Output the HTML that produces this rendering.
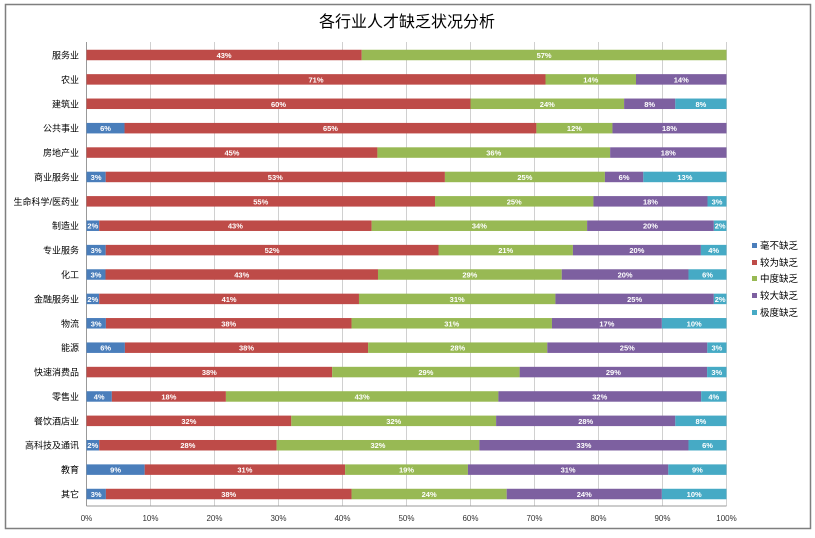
<!DOCTYPE html>
<html><head><meta charset="utf-8"><style>
body{margin:0;background:#fff;}
svg{display:block;font-family:"Liberation Sans","Noto Sans CJK SC",sans-serif;}
</style></head><body>
<svg id="c" width="815" height="538" xmlns="http://www.w3.org/2000/svg">
<rect x="0" y="0" width="815" height="538" fill="#fff"/>
<rect x="5.5" y="4.5" width="805" height="524" fill="#fff" stroke="#7f7f7f" stroke-width="1.5"/>
<text x="407" y="27" font-size="16" text-anchor="middle" fill="#000">各行业人才缺乏状况分析</text>
<g id="grid"></g>
<g id="bars"></g>
<g id="legend" font-size="9.5" fill="#000">
<rect x="752" y="243" width="5" height="5" fill="#4a7ebb"/><text x="760" y="249">毫不缺乏</text>
<rect x="752" y="260" width="5" height="5" fill="#be4b48"/><text x="760" y="266">较为缺乏</text>
<rect x="752" y="276" width="5" height="5" fill="#98b954"/><text x="760" y="282">中度缺乏</text>
<rect x="752" y="293" width="5" height="5" fill="#7d60a0"/><text x="760" y="299">较大缺乏</text>
<rect x="752" y="310" width="5" height="5" fill="#46aac5"/><text x="760" y="316">极度缺乏</text>
</g>
</svg>
<script>
var d=[["服务业",[0,43,57,0,0]],["农业",[0,71,14,14,0]],["建筑业",[0,60,24,8,8]],["公共事业",[6,65,12,18,0]],["房地产业",[0,45,36,18,0]],["商业服务业",[3,53,25,6,13]],["生命科学/医药业",[0,55,25,18,3]],["制造业",[2,43,34,20,2]],["专业服务",[3,52,21,20,4]],["化工",[3,43,29,20,6]],["金融服务业",[2,41,31,25,2]],["物流",[3,38,31,17,10]],["能源",[6,38,28,25,3]],["快速消费品",[0,38,29,29,3]],["零售业",[4,18,43,32,4]],["餐饮酒店业",[0,32,32,28,8]],["高科技及通讯",[2,28,32,33,6]],["教育",[9,31,19,31,9]],["其它",[3,38,24,24,10]]];
var col=["#4a7ebb","#be4b48","#98b954","#7d60a0","#46aac5"];
var x0=86.5,W=640,y0=55,dy=24.39,h=10.5,s="";
var g="";
for(var i=0;i<=10;i++){var x=x0+W*i/10;g+='<line x1="'+x+'" y1="42" x2="'+x+'" y2="506" stroke="#d0d0d0"/>';g+='<text x="'+x+'" y="521" font-size="8" text-anchor="middle" fill="#333">'+(i*10)+'%</text>';}
g+='<line x1="'+x0+'" y1="42" x2="'+x0+'" y2="506" stroke="#999"/><line x1="'+x0+'" y1="506" x2="'+(x0+W)+'" y2="506" stroke="#999"/>';
d.forEach(function(r,i){var yc=y0+i*dy;var t=r[1].reduce(function(a,b){return a+b},0);var x=x0;
s+='<text x="79" y="'+(yc+3.5)+'" font-size="9" text-anchor="end" fill="#000">'+r[0]+'</text>';
r[1].forEach(function(v,k){if(!v)return;var w=W*v/t;s+='<rect x="'+x+'" y="'+(yc-h/2)+'" width="'+w+'" height="'+h+'" fill="'+col[k]+'"/>';
s+='<text x="'+(x+w/2)+'" y="'+(yc+3)+'" font-size="7.5" font-weight="bold" text-anchor="middle" fill="#fff">'+v+'%</text>';x+=w;});});
document.getElementById("grid").innerHTML=g;document.getElementById("bars").innerHTML=s;
</script>
</body></html>
